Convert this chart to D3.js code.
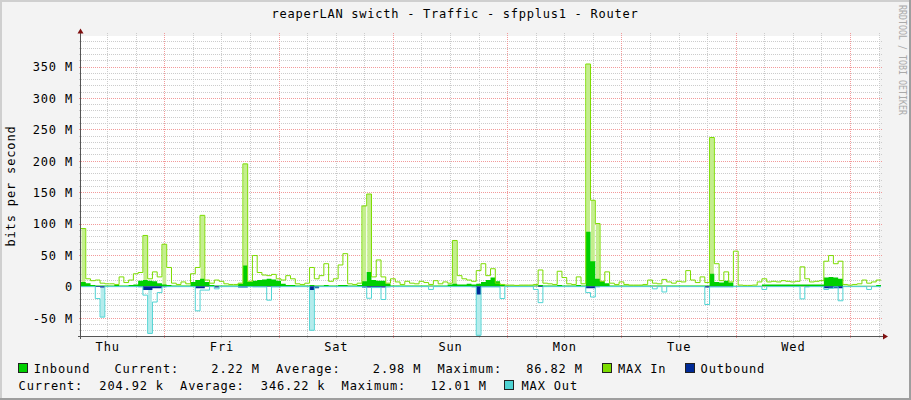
<!DOCTYPE html>
<html><head><meta charset="utf-8">
<script src="https://cdn.jsdelivr.net/npm/d3@7/dist/d3.min.js"></script>
<style>
body{margin:0;background:#f3f3f3;}
text{font-family:"DejaVu Sans Mono",monospace;}
</style></head>
<body><svg id="chart" width="911" height="400"></svg>
<script>
// ---------- data (Mbit/s, hourly samples starting Thu 06:30) ----------
const titleText = "reaperLAN swicth - Traffic - sfpplus1 - Router";
const dayLabels = ["Thu","Fri","Sat","Sun","Mon","Tue","Wed"];
const yTickValues = [-50,0,50,100,150,200,250,300,350];
const yTickLabels = ["-50 M","0","50 M","100 M","150 M","200 M","250 M","300 M","350 M"];

const maxIn = [
 92,12,9,10,5,4,4,3,15,6,10,20,
 22,81,12,23,15,67,30,5,3,7,4,20,
 30,113,10,5,10,8,4,3,3,5,195,8,
 49,22,18,17,19,12,10,17,12,4,3,5,
 30,12,17,36,8,12,34,52,4,3,5,128,
 147,15,42,15,5,12,7,3,8,5,4,8,
 6,3,9,4,7,5,73,17,12,10,8,25,
 36,17,28,5,3,2,2,1.5,2,2,2,3,
 26,5,4,3,24,14,4,3,15,4,354,137,
 100,8,23,5,3,7,3,2,2,2,3,10,
 5,4,11,7,5,8,7,25,10,6,15,6,
 237,36,9,23,7,56,2,1.5,1.5,2,7,12,
 7,8,7,9,8,7,8,31,12,7,8,9,
 40,49,36,40,3,2,3,4,10,5,7,10];

const inbound = [
 7,5,2,1.5,1.5,1.5,1.5,2,1.5,1.5,2,3,
 9,10,9,8,5,3,2,1.5,1.5,1.5,1.5,7,
 10,12,7,2,1.5,1.5,1.5,1.5,1.5,4,33,7,
 9,10,11,12,11,9,4,2,2,1.5,1.5,1.5,
 2,1.5,1.5,2,1.5,1.5,2,2,1.5,1.5,2,8,
 23,10,9,9,4,1.5,1.5,1.5,1.5,1.5,1.5,1.5,
 1.5,1.5,1.5,1.5,1.5,3,4,3,3,4,3,4,
 7,10,14,8,2,1.5,1.5,1.5,1.5,1.5,1.5,1.5,
 2,1.5,1.5,1.5,2,1.5,1.5,1.5,2,1.5,86.82,40,
 12,8,5,1.5,1.5,1.5,1.5,1.5,1.5,1.5,1.5,1.5,
 1.5,1.5,1.5,1.5,1.5,1.5,1.5,1.5,1.5,1.5,1.5,1.5,
 20,7,6,9,6,1,1,1,1,1,1,3,
 3,3,3,3,3,3,3,3,3,3,3,3,
 14,15,14,12,1,1,1,1,1,1,1,2.22];

const outbound = [
 0.3,0.3,0.3,1,2,0.3,0.3,0.3,0.3,0.3,0.3,0.3,
 0.5,6,6,3,3,0.5,0.3,0.3,0.3,0.3,0.3,0.3,
 3,3,0.5,0.3,2,0.3,0.3,0.3,0.3,2,2,0.5,
 0.5,0.5,0.5,0.5,0.5,0.5,0.3,0.3,0.3,0.3,0.3,0.3,
 6,3,0.3,0.3,0.3,0.3,0.3,0.3,0.3,0.3,0.3,2,
 2,2,2,2,0.3,0.3,0.3,0.3,0.3,0.3,0.3,0.3,
 0.3,0.3,0.3,0.3,0.3,0.3,0.3,0.3,0.3,0.3,0.5,13,
 0.5,0.5,0.5,0.5,0.3,0.3,0.3,0.3,0.3,0.3,0.3,0.3,
 1,0.3,0.3,0.3,0.3,0.3,0.3,0.3,0.3,0.3,3,3,
 0.5,0.3,0.3,0.3,0.3,0.3,0.3,0.3,0.3,0.3,0.3,0.3,
 0.3,0.3,0.3,0.3,0.3,0.3,0.3,0.3,0.3,0.3,0.3,2,
 0.5,0.5,0.5,0.5,0.5,0.3,0.3,0.3,0.3,0.3,0.3,0.3,
 0.3,0.3,0.3,0.3,0.3,0.3,0.3,0.3,0.5,0.3,0.3,0.3,
 3,3,3,3,0.3,0.3,0.3,0.3,0.3,0.3,0.3,0.2];

const maxOut = [
 0.5,0.5,0.5,19.5,49,0.5,0.5,0.5,0.5,0.5,0.5,0.5,
 1,14,75,25,10,1,0.5,0.5,0.5,0.5,0.5,0.5,
 39,6,6,0.5,4,0.5,0.5,0.5,0.5,1,1,0.5,
 1,1,1,22,1,1,0.5,0.5,0.5,0.5,0.5,0.5,
 70,1,0.5,0.5,0.5,0.5,0.5,0.5,0.5,0.5,0.5,1,
 19,2,2,21,1,0.5,0.5,0.5,0.5,0.5,0.5,0.5,
 0.5,5,0.5,0.5,0.5,0.5,0.5,0.5,0.5,0.5,1,78,
 1,1,1,1,19.5,0.5,0.5,0.5,0.5,0.5,0.5,5,
 26,0.5,0.5,0.5,0.5,0.5,0.5,0.5,0.5,0.5,10,17,
 1,0.5,0.5,0.5,0.5,0.5,0.5,0.5,0.5,0.5,0.5,0.5,
 4,0.5,9,0.5,0.5,0.5,0.5,0.5,0.5,0.5,0.5,29,
 1,1,1,1,1,0.5,0.5,0.5,0.5,0.5,0.5,5,
 0.5,0.5,0.5,0.5,0.5,0.5,0.5,20,1,0.5,0.5,0.5,
 5,3,1,23,0.5,0.5,0.5,0.5,0.5,5,0.5,0.5];

const legendRow1 = "Inbound   Current:    2.22 M  Average:    2.98 M  Maximum:   86.82 M";
const legendRow2 = "Current:  204.92 k  Average:  346.22 k  Maximum:   12.01 M";
const seriesNames = ["Inbound","MAX In","Outbound","MAX Out"];
const colors = {inbound:"#00cf00", maxIn:"#7cdc00", outbound:"#002a97", maxOut:"#4fd3d3",
                maxInFill:"#c4ee8e", maxOutFill:"#b4ecec"};

// ---------- setup ----------
const svg = d3.select("#chart");
const W = 911, H = 400;
const P = {left:81, right:881, top:36, bottom:336};
const start = new Date(2024,0,4,6,30);
const end = d3.timeHour.offset(start, maxIn.length);
const times = d3.range(maxIn.length + 1).map(i => d3.timeHour.offset(start, i));

const x = d3.scaleTime().domain([start, end]).range([P.left, P.right]);
const y = d3.scaleLinear().domain([-79.1, 398.6]).range([P.bottom, P.top]);

// background + frame
svg.append("rect").attr("width",W).attr("height",H).attr("fill","#f3f3f3");
svg.append("rect").attr("x",0).attr("y",0).attr("width",W).attr("height",2).attr("fill","#cfcfcf");
svg.append("rect").attr("x",0).attr("y",0).attr("width",2).attr("height",H).attr("fill","#cfcfcf");
svg.append("rect").attr("x",0).attr("y",H-2).attr("width",W).attr("height",2).attr("fill","#9e9e9e");
svg.append("rect").attr("x",W-2).attr("y",0).attr("width",2).attr("height",H).attr("fill","#9e9e9e");

// canvas
svg.append("rect").attr("x",P.left).attr("y",P.top).attr("width",P.right-P.left-1).attr("height",P.bottom-P.top).attr("fill","#ffffff");

// grid
const grid = svg.append("g").attr("shape-rendering","crispEdges");
const hourTicks = d3.timeHour.every(6).range(start, end);
const minorV = hourTicks.filter(d => d.getHours() !== 0);
const majorV = d3.timeDay.range(start, end);
const px = v => Math.round(v) + 0.5;
grid.selectAll(".mv").data(minorV).join("line")
  .attr("x1",d=>px(x(d))).attr("x2",d=>px(x(d))).attr("y1",P.top-3).attr("y2",P.bottom+2)
  .attr("stroke","#cccccc").attr("stroke-dasharray","1,1");
const yMinor = d3.range(-70, 400, 10).filter(v => v % 50 !== 0);
const yMajor = d3.range(-50, 400, 50).filter(v => v !== 0);
grid.selectAll(".mh").data(yMinor).join("line")
  .attr("x1",P.left-2).attr("x2",P.right+2).attr("y1",d=>px(y(d))).attr("y2",d=>px(y(d)))
  .attr("stroke","#cccccc").attr("stroke-dasharray","1,1");
grid.selectAll(".Mv").data(majorV).join("line")
  .attr("x1",d=>px(x(d))).attr("x2",d=>px(x(d))).attr("y1",P.top-3).attr("y2",P.bottom+2)
  .attr("stroke","#f29a9a").attr("stroke-dasharray","1,1");
grid.selectAll(".Mh").data(yMajor).join("line")
  .attr("x1",P.left-2).attr("x2",P.right+2).attr("y1",d=>px(y(d))).attr("y2",d=>px(y(d)))
  .attr("stroke","#f29a9a").attr("stroke-dasharray","1,1");

// helpers
const ext = arr => arr.concat([arr[arr.length-1]]);
const lineGen = d3.line().curve(d3.curveStepAfter).x((d,i)=>x(times[i]));
const areaGen = d3.area().curve(d3.curveStepAfter).x((d,i)=>x(times[i])).y0(y(0));

// MAX In spike fills (tall spikes only)
const plotG = svg.append("g");
plotG.selectAll(".fin").data(maxIn.map((v,i)=>({v,i})).filter(d=>d.v>=60)).join("rect")
  .attr("x",d=>x(times[d.i])+0.5).attr("width",d=>x(times[d.i+1])-x(times[d.i])-1)
  .attr("y",d=>y(d.v)).attr("height",d=>y(0)-y(d.v)).attr("fill",colors.maxInFill);

// Inbound area
plotG.append("path").datum(ext(inbound)).attr("d", areaGen.y1(d=>y(d))).attr("fill",colors.inbound);
// MAX In line
plotG.append("path").datum(ext(maxIn)).attr("d", lineGen.y(d=>y(d)))
  .attr("fill","none").attr("stroke",colors.maxIn).attr("stroke-width",1);
// MAX Out dip fills (deep dips only)
plotG.selectAll(".fout").data(maxOut.map((v,i)=>({v,i})).filter(d=>d.v>=40)).join("rect")
  .attr("x",d=>x(times[d.i])+0.5).attr("width",d=>x(times[d.i+1])-x(times[d.i])-1)
  .attr("y",y(0)).attr("height",d=>y(-d.v)-y(0)).attr("fill",colors.maxOutFill);
// Outbound area (negative)
plotG.append("path").datum(ext(outbound)).attr("d", areaGen.y1(d=>y(-d))).attr("fill",colors.outbound);
// MAX Out line (negative)
plotG.append("path").datum(ext(maxOut)).attr("d", lineGen.y(d=>y(-d)))
  .attr("fill","none").attr("stroke",colors.maxOut).attr("stroke-width",1);

// axes lines & arrows
svg.append("line").attr("x1",80.5).attr("x2",80.5).attr("y1",P.bottom+3).attr("y2",P.top-4)
  .attr("stroke","#555").attr("shape-rendering","crispEdges");
svg.append("line").attr("x1",P.left-3).attr("x2",P.right+3).attr("y1",336.5).attr("y2",336.5)
  .attr("stroke","#555").attr("shape-rendering","crispEdges");
svg.append("path").attr("d","M77.5,33.5L83.5,33.5L80.5,28.5Z").attr("fill","#7f1010");
svg.append("path").attr("d","M883,333.5L883,339.5L888,336.5Z").attr("fill","#7f1010");

// tick labels through d3 axes
const fontSize = 12, ls = 0.85;
const yAxis = svg.append("g").attr("transform",`translate(${P.left},0)`)
  .call(d3.axisLeft(y).tickValues(yTickValues).tickFormat((d,i)=>yTickLabels[i]).tickSize(0).tickPadding(8));
yAxis.select(".domain").remove();
yAxis.selectAll("text").attr("font-family","DejaVu Sans Mono").attr("font-size",fontSize)
  .attr("letter-spacing",ls).attr("fill","#000").attr("dy","0.36em");

const noonTicks = d3.timeDay.range(d3.timeDay.floor(start), end).map(d=>d3.timeHour.offset(d,12)).filter(d=>d>=start && d<=end);
const xAxis = svg.append("g").attr("transform",`translate(0,${P.bottom})`)
  .call(d3.axisBottom(x).tickValues(noonTicks).tickFormat((d,i)=>dayLabels[i]).tickSize(0).tickPadding(6));
xAxis.select(".domain").remove();
xAxis.selectAll("text").attr("font-family","DejaVu Sans Mono").attr("font-size",fontSize)
  .attr("letter-spacing",ls).attr("fill","#000");

// title
svg.append("text").attr("x",455).attr("y",18).attr("text-anchor","middle")
  .attr("font-size",fontSize).attr("letter-spacing",0.75).attr("fill","#000").text(titleText);

// y label
svg.append("text").attr("transform","translate(15,186) rotate(-90)").attr("text-anchor","middle")
  .attr("font-size",fontSize).attr("letter-spacing",ls).attr("fill","#000").text("bits per second");

// watermark
svg.append("text").attr("transform","translate(898.5,5) rotate(90)")
  .attr("font-size",10).attr("textLength",110).attr("lengthAdjust","spacingAndGlyphs")
  .attr("fill","#aaaaaa").text("RRDTOOL / TOBI OETIKER");

// legend
const legend = svg.append("g");
const sw = [
  {x:18, y:363, c:colors.inbound},
  {x:602, y:363, c:colors.maxIn},
  {x:685, y:363, c:colors.outbound},
  {x:504, y:380, c:colors.maxOut}
];
legend.selectAll("rect").data(sw).join("rect")
  .attr("x",d=>d.x+0.5).attr("y",d=>d.y+0.5).attr("width",9).attr("height",9)
  .attr("fill",d=>d.c).attr("stroke","#222").attr("stroke-width",1);
const lt = [
  {x:33.7, y:372.5, t:legendRow1},
  {x:618, y:372.5, t:seriesNames[1]},
  {x:700.6, y:372.5, t:seriesNames[2]},
  {x:18.6, y:389.5, t:legendRow2},
  {x:521.5, y:389.5, t:seriesNames[3]}
];
legend.selectAll("text").data(lt).join("text")
  .attr("x",d=>d.x).attr("y",d=>d.y).attr("font-size",fontSize).attr("letter-spacing",ls)
  .attr("fill","#000").style("white-space","pre").text(d=>d.t);
</script></body></html>
